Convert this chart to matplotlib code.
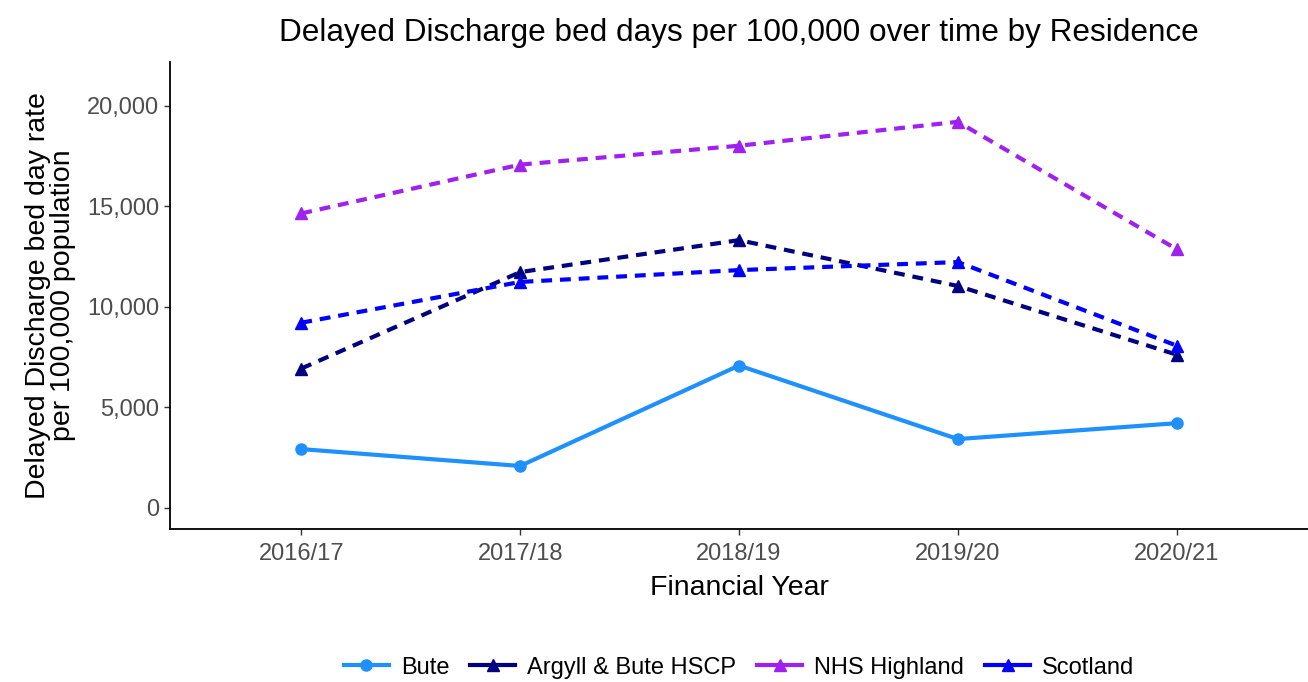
import matplotlib.pyplot as plt
from matplotlib.ticker import FuncFormatter

plt.rcParams["font.family"] = ["Liberation Sans", "DejaVu Sans"]

years = ["2016/17", "2017/18", "2018/19", "2019/20", "2020/21"]
bute = [2920, 2080, 7080, 3420, 4210]
argyll_bute = [6930, 11730, 13320, 11040, 7620]
nhs_highland = [14650, 17080, 18020, 19210, 12870]
scotland = [9210, 11240, 11830, 12230, 8070]

dash = (0, (2.6, 1.9))
series = [
    ("Bute", bute, "#1E90FF", "-", "o"),
    ("Argyll & Bute HSCP", argyll_bute, "#000080", dash, "^"),
    ("NHS Highland", nhs_highland, "#A020F0", dash, "^"),
    ("Scotland", scotland, "#0000FF", dash, "^"),
]

fig = plt.figure(figsize=(13.08, 6.82), dpi=100)
ax = fig.add_axes([170 / 1308, 1 - 529 / 682, 1138 / 1308, (529 - 62) / 682])

x = list(range(1, len(years) + 1))
for name, vals, col, ls, mk in series:
    ax.plot(x, vals, color=col, linestyle=ls, linewidth=3, marker=mk,
            markersize=8, label=name)

# y limits: 0 to 110% of the max, plus ggplot-style 5% padding
top = max(nhs_highland) * 1.1
ax.set_ylim(-0.05 * top, 1.05 * top)
ax.set_xlim(0.4, len(years) + 0.6)

ax.set_xticks(x)
ax.set_xticklabels(years)
ax.set_yticks([0, 5000, 10000, 15000, 20000])
ax.yaxis.set_major_formatter(FuncFormatter(lambda v, p: f"{int(v):,}"))
ax.tick_params(axis="both", labelsize=17, labelcolor="#4D4D4D",
               color="#333333", length=4, width=1)
ax.tick_params(axis="x", pad=6)
ax.tick_params(axis="y", pad=4)

for side in ["top", "right"]:
    ax.spines[side].set_visible(False)
for side in ["left", "bottom"]:
    ax.spines[side].set_linewidth(1.3)
    ax.spines[side].set_color("black")

ax.set_xlabel("Financial Year", fontsize=20.5, labelpad=7)
ax.set_ylabel("Delayed Discharge bed day rate\nper 100,000 population",
              fontsize=20.5, labelpad=8, linespacing=0.95)
ax.set_title("Delayed Discharge bed days per 100,000 over time by Residence",
             fontsize=22.7, pad=15)

leg = ax.legend(loc="center", bbox_to_anchor=(0.5, -0.297), ncol=4,
                frameon=False, fontsize=17, handlelength=1.9,
                handletextpad=0.5, columnspacing=0.9)
# short legend keys read better as solid strokes
for h in leg.get_lines():
    h.set_linestyle("-")

fig.savefig("out.png", dpi=100)
